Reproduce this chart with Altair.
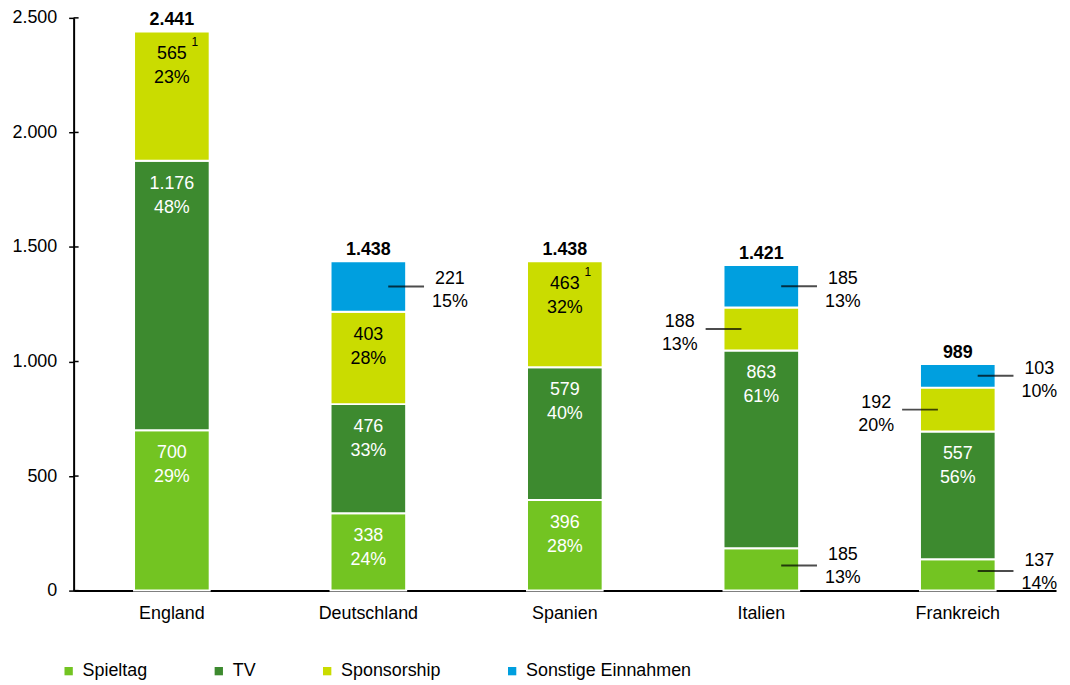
import altair as alt
import pandas as pd

countries = ["England", "Deutschland", "Spanien", "Italien", "Frankreich"]
categories = ["Spieltag", "TV", "Sponsorship", "Sonstige Einnahmen"]
colors = ["#73C422", "#3D8A2F", "#CADC00", "#009FDF"]
text_colors = ["white", "white", "black", "black"]

spieltag = [700, 338, 396, 185, 137]
tv = [1176, 476, 579, 863, 557]
sponsorship = [565, 403, 463, 188, 192]
sonstige = [0, 221, 0, 185, 103]
totals = [2441, 1438, 1438, 1421, 989]

spieltag_pct = ["29%", "24%", "28%", "13%", "14%"]
tv_pct = ["48%", "33%", "40%", "61%", "56%"]
sponsorship_pct = ["23%", "28%", "32%", "13%", "20%"]
sonstige_pct = ["", "15%", "", "13%", "10%"]

spieltag_pos = ["in", "in", "in", "right", "right"]
tv_pos = ["in", "in", "in", "in", "in"]
sponsorship_pos = ["in", "in", "in", "left", "left"]
sonstige_pos = ["", "right", "", "right", "right"]
sponsorship_note = ["1", "", "1", "", ""]

y_ticks = [0, 500, 1000, 1500, 2000, 2500]

FONT = "Liberation Sans"
FS = 18


def de(n):
    return f"{n:,}".replace(",", ".")


series = [spieltag, tv, sponsorship, sonstige]
pcts = [spieltag_pct, tv_pct, sponsorship_pct, sonstige_pct]
poss = [spieltag_pos, tv_pos, sponsorship_pos, sonstige_pos]

rows = []
for ci, c in enumerate(countries):
    cum = 0
    for k, cat in enumerate(categories):
        v = series[k][ci]
        if v == 0:
            continue
        rows.append({
            "country": c, "category": cat, "ord": k, "value": v,
            "start": cum, "end": cum + v, "mid": cum + v / 2,
            "label": de(v), "pct": pcts[k][ci], "pos": poss[k][ci],
            "tcolor": text_colors[k],
            "note": sponsorship_note[ci] if k == 2 else "",
        })
        cum += v
df = pd.DataFrame(rows)
tot = pd.DataFrame({"country": countries, "total": totals,
                    "label": [de(t) for t in totals]})
ticks_df = pd.DataFrame({"v": y_ticks})

yscale = alt.Scale(domain=[0, 2500], nice=False)
xscale = alt.Scale(domain=countries, paddingInner=0.615, paddingOuter=0.3075)

X = alt.X("country:N", scale=xscale, title=None,
          axis=alt.Axis(labelFontSize=FS, labelFont=FONT, labelColor="black",
                        labelAngle=0, ticks=False, labelPadding=14,
                        domainColor="black", domainWidth=2))

bars = alt.Chart(df).mark_bar(stroke="white", strokeWidth=2).encode(
    x=X,
    y=alt.Y("value:Q", stack="zero", scale=yscale, title=None,
            axis=alt.Axis(values=y_ticks, labelFontSize=FS, labelFont=FONT,
                          labelColor="black", grid=False, tickSize=5,
                          tickColor="black", tickWidth=1.5,
                          domainColor="black", domainWidth=2,
                          labelPadding=12,
                          labelExpr="replace(format(datum.value, ','), ',', '.')")),
    color=alt.Color("category:N",
                    scale=alt.Scale(domain=categories, range=colors),
                    legend=alt.Legend(orient="none", direction="horizontal",
                                      legendX=-14, legendY=648, title=None,
                                      symbolType="square", symbolSize=70,
                                      symbolStrokeWidth=0, labelLimit=400,
                                      labelFontSize=FS, labelFont=FONT,
                                      labelColor="black", labelOffset=5,
                                      columnPadding=62)),
    order=alt.Order("ord:Q"),
)

inner_ticks = alt.Chart(ticks_df).mark_rule(color="black", strokeWidth=1.5).encode(
    y=alt.Y("v:Q", scale=yscale, title=None),
    x=alt.value(0), x2=alt.value(5),
)

inside = alt.Chart(df).transform_filter(alt.datum.pos == "in")
in_val = inside.mark_text(font=FONT, fontSize=FS, baseline="middle", dy=23).encode(
    x=alt.X("country:N", scale=xscale, title=None),
    y=alt.Y("end:Q", scale=yscale, title=None),
    text="label:N", color=alt.Color("tcolor:N", scale=None))
in_pct = inside.mark_text(font=FONT, fontSize=FS, baseline="middle", dy=47).encode(
    x=alt.X("country:N", scale=xscale, title=None),
    y=alt.Y("end:Q", scale=yscale, title=None),
    text="pct:N", color=alt.Color("tcolor:N", scale=None))
notes = alt.Chart(df).transform_filter(alt.datum.note != "").mark_text(
    font=FONT, fontSize=12, baseline="middle", dx=23, dy=11, color="black").encode(
    x=alt.X("country:N", scale=xscale, title=None),
    y=alt.Y("end:Q", scale=yscale, title=None),
    text="note:N")

layers = []
# (side, sign, bottom segment?, line offset, value dy, pct dy)
for side, sgn, bottom, ly, d1, d2 in [("right", 1, False, 0, -7, 16),
                                      ("right", 1, True, -4, -14, 9),
                                      ("left", -1, False, 0, -7, 16)]:
    cond = (alt.datum.pos == side) & ((alt.datum.ord == 0) if bottom else (alt.datum.ord != 0))
    base = alt.Chart(df).transform_filter(cond)
    layers.append(base.mark_tick(orient="horizontal", color="black", thickness=2,
                                 size=36, xOffset=sgn * 38, yOffset=ly).encode(
        x=alt.X("country:N", scale=xscale, title=None),
        y=alt.Y("mid:Q", scale=yscale, title=None)))
    layers.append(base.mark_text(font=FONT, fontSize=FS, baseline="middle",
                                 dx=sgn * 82, dy=d1, color="black").encode(
        x=alt.X("country:N", scale=xscale, title=None),
        y=alt.Y("mid:Q", scale=yscale, title=None), text="label:N"))
    layers.append(base.mark_text(font=FONT, fontSize=FS, baseline="middle",
                                 dx=sgn * 82, dy=d2, color="black").encode(
        x=alt.X("country:N", scale=xscale, title=None),
        y=alt.Y("mid:Q", scale=yscale, title=None), text="pct:N"))

totals_txt = alt.Chart(tot).mark_text(font=FONT, fontSize=FS, fontWeight="bold",
                                      baseline="bottom", dy=-2, color="black").encode(
    x=alt.X("country:N", scale=xscale, title=None),
    y=alt.Y("total:Q", scale=yscale, title=None),
    text="label:N")

chart = alt.layer(bars, inner_ticks, in_val, in_pct, notes, *layers, totals_txt).properties(
    width=988, height=576,
    autosize=alt.AutoSizeParams(type="none"),
    padding={"left": 66, "top": 8, "right": 6, "bottom": 92},
).configure_view(stroke=None)

chart.save("out.html", embed_options={"renderer": "svg", "actions": False})
